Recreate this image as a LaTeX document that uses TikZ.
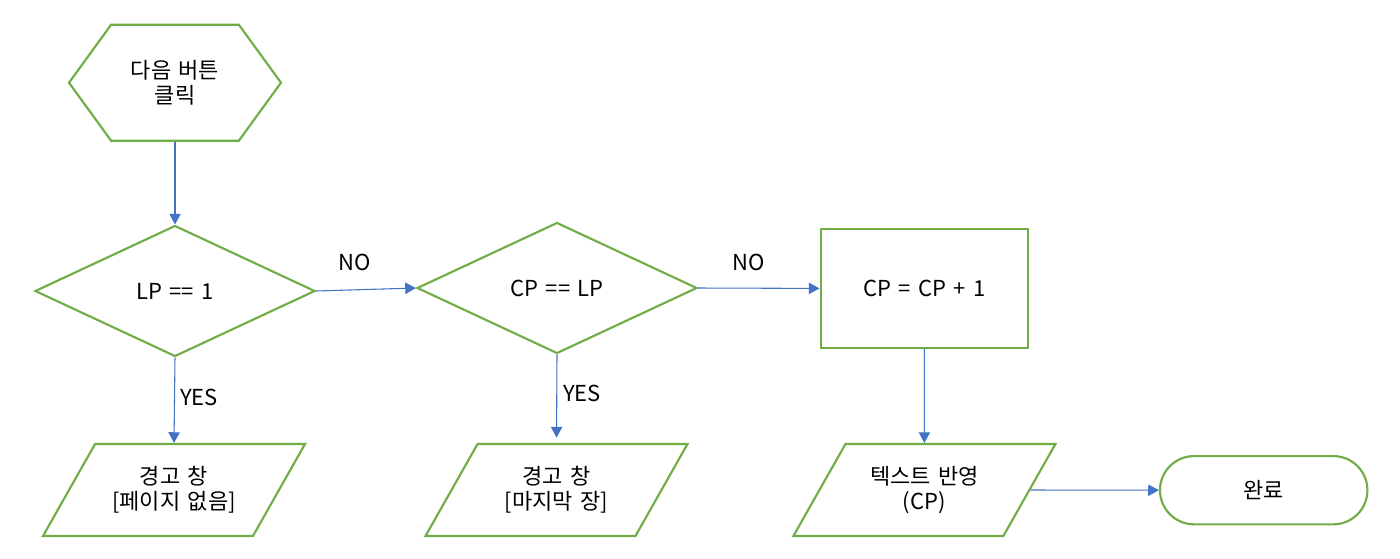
\documentclass[tikz,border=0pt]{standalone}
\usepackage{fontspec}
\setmainfont{Noto Sans CJK KR}[WordSpace=1.5]
\usetikzlibrary{shapes.geometric,shapes.symbols,arrows.meta}
\definecolor{boxgreen}{HTML}{70AD47}
\definecolor{arrowblue}{HTML}{4472C4}
\newcommand\iotext[1]{\parbox[c][40pt][c]{110pt}{\centering #1}}
\begin{document}
\begin{tikzpicture}[x=0.75pt,y=-0.75pt,
  every node/.style={font=\fontsize{16.5}{19}\selectfont, text=black},
  shapebox/.style={draw=boxgreen, line width=1.6pt, inner sep=0pt, align=center},
  hexbox/.style={shapebox, signal, signal to=east and west, signal pointer angle=108,
     minimum width=159pt, minimum height=87pt},
  decbox/.style={shapebox, diamond, minimum width=210pt, minimum height=98.25pt},
  procbox/.style={shapebox, rectangle, minimum width=155.6pt, minimum height=89pt},
  iobox/.style={draw=boxgreen, line width=1.6pt, trapezium, trapezium left angle=60.5, trapezium right angle=119.5,
     trapezium stretches body=true, inner xsep=0pt, inner ysep=14.5pt, minimum width=196.5pt, minimum height=69pt},
  termbox/.style={shapebox, rectangle, rounded corners=25.6pt, minimum width=155.6pt, minimum height=51.2pt},
  conn/.style={draw=arrowblue, line width=0.8pt, -{Triangle[length=8pt,width=8.5pt]}},
  lbl/.style={inner sep=0pt}
]
\path[use as bounding box, fill=white] (0,0) rectangle (1400,558);

\node[hexbox] (start) at (175,82.7) {다음 버튼\\클릭};
\node[decbox] (d1) at (175,291) {LP == 1};
\node[decbox] (d2) at (557,288) {CP == LP};
\node[procbox] (inc) at (924.3,288.4) {CP = CP + 1};
\node[iobox] (w1) at (174,490) {\iotext{경고 창\\{[}페이지 없음{]}}};
\node[iobox] (w2) at (556.5,490) {\iotext{경고 창\\{[}마지막 장{]}}};
\node[iobox] (show) at (924.4,490) {\iotext{텍스트 반영\\(CP)}};
\node[termbox] (done) at (1263.7,490.2) {완료};

\draw[conn] (start.south) -- (d1.north);
\draw[conn] (d1.east) -- (d2.west);
\draw[conn] (d2.east) -- (inc.west);
\draw[conn] (d1.south) -- (w1.north);
\draw[conn, shorten >=4pt] (d2.south) -- (w2.north);
\draw[conn] (inc.south) -- (show.north);
\draw[conn] (show.east) -- (done.west);

\node[lbl] (no1) at (355,262) {NO};
\node[lbl] (no2) at (749,262) {NO};
\node[lbl] (yes1) at (199,397) {YES};
\node[lbl] (yes2) at (582,393) {YES};
\end{tikzpicture}
\end{document}
